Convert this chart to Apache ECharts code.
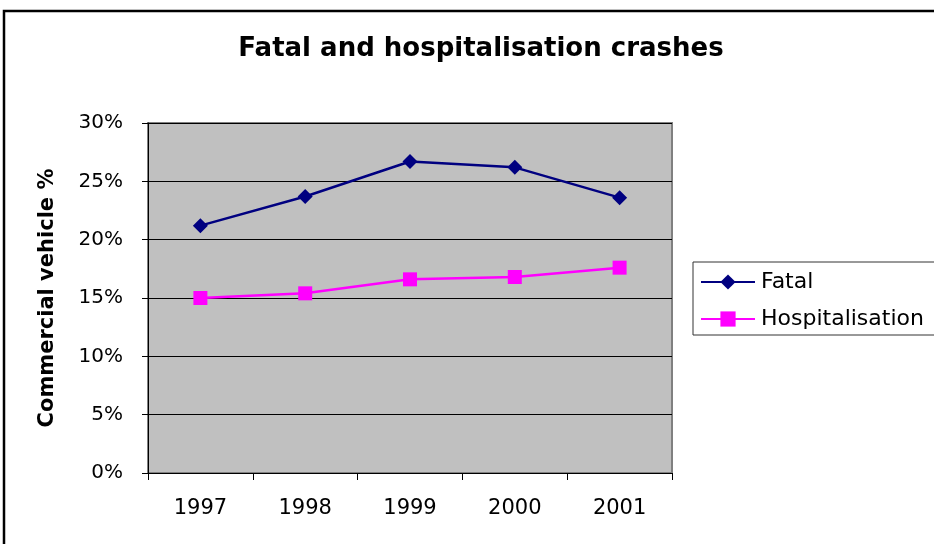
<!DOCTYPE html>
<html>
<head>
<meta charset="utf-8">
<script src="https://cdn.jsdelivr.net/npm/echarts@6/dist/echarts.min.js"></script>
<style>
html,body{margin:0;padding:0;background:#fff;}
#c{width:934px;height:544px;}
</style>
</head>
<body>
<div id="c"></div>
<script>
const years = ['1997', '1998', '1999', '2000', '2001'];
const fatal = [21.2, 23.7, 26.7, 26.2, 23.6];
const hospitalisation = [15.0, 15.4, 16.6, 16.8, 17.6];
const yTicks = { min: 0, max: 30, interval: 5 };

const chart = echarts.init(document.getElementById('c'));
const font = 'DejaVu Sans, Liberation Sans, Arial, sans-serif';
chart.setOption({
  animation: false,
  backgroundColor: '#fff',
  textStyle: { fontFamily: font },
  title: {
    text: 'Fatal and hospitalisation crashes',
    left: 476, top: 31, textAlign: 'center',
    textStyle: { fontSize: 26, fontWeight: 'bold', color: '#000', fontFamily: font }
  },
  graphic: [{
    type: 'rect', silent: true,
    shape: { x: 4, y: 11, width: 1200, height: 1200 },
    style: { fill: 'none', stroke: '#000', lineWidth: 2.5 }
  }],
  legend: {
    orient: 'vertical', left: 693, top: 262,
    padding: [9, 40, 5, 7],
    itemWidth: 54, itemHeight: 19, itemGap: 15,
    borderColor: '#333', borderWidth: 1,
    textStyle: { fontSize: 22, color: '#000', fontFamily: font, padding: [0, 0, 0, 1] },
    data: ['Fatal', 'Hospitalisation']
  },
  grid: {
    left: 148, top: 123, width: 524, height: 350,
    show: true, backgroundColor: '#c0c0c0', borderColor: '#808080', borderWidth: 2
  },
  xAxis: {
    type: 'category', data: years, boundaryGap: true,
    axisLine: { lineStyle: { color: '#000', width: 1 } },
    axisTick: { show: true, length: 7, inside: false, lineStyle: { color: '#000' } },
    axisLabel: { fontSize: 21, color: '#000', margin: 25, fontFamily: font }
  },
  yAxis: {
    type: 'value', min: yTicks.min, max: yTicks.max, interval: yTicks.interval,
    name: 'Commercial vehicle %', nameLocation: 'middle', nameGap: 90,
    nameTextStyle: { fontSize: 21, fontWeight: 'bold', color: '#000', fontFamily: font },
    axisLine: { show: true, lineStyle: { color: '#000', width: 1 } },
    axisTick: { show: true, length: 6, lineStyle: { color: '#000' } },
    axisLabel: { fontSize: 20, color: '#000', margin: 25, formatter: '{value}%', fontFamily: font },
    splitLine: { show: true, lineStyle: { color: '#000', width: 1 } }
  },
  series: [
    {
      name: 'Fatal', type: 'line', data: fatal,
      symbol: 'diamond', symbolSize: 15,
      lineStyle: { color: '#000080', width: 2.5 },
      itemStyle: { color: '#000080' }
    },
    {
      name: 'Hospitalisation', type: 'line', data: hospitalisation,
      symbol: 'rect', symbolSize: 14,
      lineStyle: { color: '#ff00ff', width: 2.5 },
      itemStyle: { color: '#ff00ff' }
    }
  ]
});
</script>
</body>
</html>
